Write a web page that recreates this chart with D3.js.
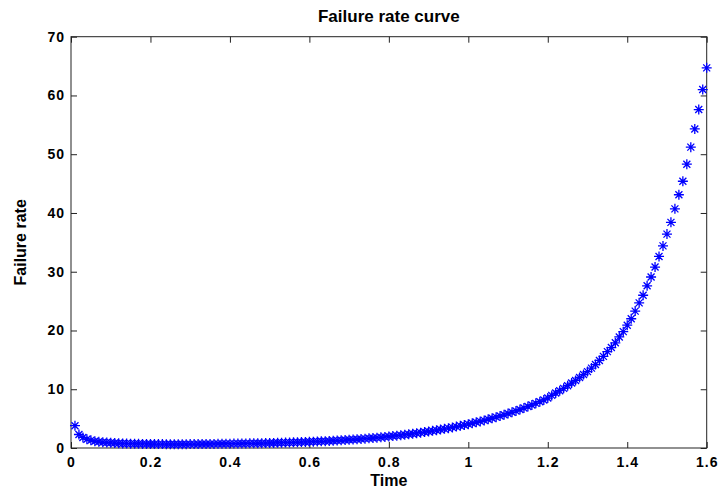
<!DOCTYPE html>
<html>
<head>
<meta charset="utf-8">
<script src="https://cdn.jsdelivr.net/npm/d3@7"></script>
<style>
  body { margin: 0; background: #fff; }
  text { font-family: "Liberation Sans", Arial, sans-serif; font-weight: bold; fill: #000; }
</style>
</head>
<body>
<div id="graph"></div>
<script>
/* data */
var timeValues = [
  0.01, 0.02, 0.03, 0.04, 0.05, 0.06, 0.07, 0.08, 0.09, 0.10,
  0.11, 0.12, 0.13, 0.14, 0.15, 0.16, 0.17, 0.18, 0.19, 0.20,
  0.21, 0.22, 0.23, 0.24, 0.25, 0.26, 0.27, 0.28, 0.29, 0.30,
  0.31, 0.32, 0.33, 0.34, 0.35, 0.36, 0.37, 0.38, 0.39, 0.40,
  0.41, 0.42, 0.43, 0.44, 0.45, 0.46, 0.47, 0.48, 0.49, 0.50,
  0.51, 0.52, 0.53, 0.54, 0.55, 0.56, 0.57, 0.58, 0.59, 0.60,
  0.61, 0.62, 0.63, 0.64, 0.65, 0.66, 0.67, 0.68, 0.69, 0.70,
  0.71, 0.72, 0.73, 0.74, 0.75, 0.76, 0.77, 0.78, 0.79, 0.80,
  0.81, 0.82, 0.83, 0.84, 0.85, 0.86, 0.87, 0.88, 0.89, 0.90,
  0.91, 0.92, 0.93, 0.94, 0.95, 0.96, 0.97, 0.98, 0.99, 1.00,
  1.01, 1.02, 1.03, 1.04, 1.05, 1.06, 1.07, 1.08, 1.09, 1.10,
  1.11, 1.12, 1.13, 1.14, 1.15, 1.16, 1.17, 1.18, 1.19, 1.20,
  1.21, 1.22, 1.23, 1.24, 1.25, 1.26, 1.27, 1.28, 1.29, 1.30,
  1.31, 1.32, 1.33, 1.34, 1.35, 1.36, 1.37, 1.38, 1.39, 1.40,
  1.41, 1.42, 1.43, 1.44, 1.45, 1.46, 1.47, 1.48, 1.49, 1.50,
  1.51, 1.52, 1.53, 1.54, 1.55, 1.56, 1.57, 1.58, 1.59, 1.60
];

var failureRates = [
  3.8, 2.3, 1.8, 1.5, 1.3, 1.15, 1.05, 0.98, 0.93, 0.88,
  0.84, 0.81, 0.78, 0.76, 0.74, 0.72, 0.71, 0.70, 0.69, 0.68,
  0.67, 0.66, 0.66, 0.65, 0.65, 0.65, 0.65, 0.65, 0.65, 0.66,
  0.66, 0.67, 0.67, 0.68, 0.69, 0.70, 0.71, 0.72, 0.73, 0.74,
  0.75, 0.76, 0.77, 0.78, 0.79, 0.80, 0.81, 0.82, 0.83, 0.85,
  0.86, 0.88, 0.90, 0.92, 0.94, 0.96, 0.98, 1.00, 1.03, 1.05,
  1.08, 1.11, 1.14, 1.17, 1.20, 1.23, 1.27, 1.31, 1.35, 1.40,
  1.44, 1.49, 1.54, 1.59, 1.65, 1.70, 1.76, 1.82, 1.89, 1.96,
  2.03, 2.10, 2.18, 2.26, 2.34, 2.43, 2.52, 2.61, 2.71, 2.81,
  2.92, 3.03, 3.14, 3.26, 3.38, 3.51, 3.64, 3.77, 3.91, 4.06,
  4.21, 4.37, 4.53, 4.70, 4.88, 5.06, 5.25, 5.45, 5.65, 5.86,
  6.08, 6.31, 6.55, 6.80, 7.05, 7.32, 7.60, 7.88, 8.18, 8.50,
  8.95, 9.35, 9.75, 10.15, 10.6, 11.05, 11.5, 12.0, 12.5, 13.0,
  13.6, 14.2, 14.9, 15.6, 16.4, 17.1, 17.9, 18.9, 19.8, 20.9,
  22.0, 23.3, 24.7, 26.0, 27.6, 29.1, 30.8, 32.6, 34.4, 36.4,
  38.4, 40.7, 43.1, 45.4, 48.3, 51.2, 54.3, 57.6, 61.0, 64.7
];

var xTicks = [0, 0.2, 0.4, 0.6, 0.8, 1, 1.2, 1.4, 1.6];
var xTickLabels = ["0", "0.2", "0.4", "0.6", "0.8", "1", "1.2", "1.4", "1.6"];
var yTicks = [0, 10, 20, 30, 40, 50, 60, 70];
var yTickLabels = ["0", "10", "20", "30", "40", "50", "60", "70"];

var width = 721;
var height = 488;
var margin = {top: 36.7, right: 14.3, bottom: 40, left: 71};
var plotW = width - margin.left - margin.right;
var plotH = height - margin.top - margin.bottom;

var svg = d3.select("#graph")
            .append("svg")
            .attr("width", width)
            .attr("height", height);

var x = d3.scaleLinear().domain([0, 1.6]).range([0, plotW]);
var y = d3.scaleLinear().domain([0, 70]).range([plotH, 0]);

var g = svg.append("g")
           .attr("transform", "translate(" + margin.left + "," + margin.top + ")");

// axes, ticks point inwards like matlab
g.append("g")
  .attr("class", "xaxis")
  .attr("transform", "translate(0," + plotH + ")")
  .call(d3.axisBottom(x).tickValues(xTicks).tickSize(-6).tickPadding(9)
          .tickFormat(function(d, i) { return xTickLabels[i]; }));

g.append("g")
  .attr("class", "yaxis")
  .call(d3.axisLeft(y).tickValues(yTicks).tickSize(-6).tickPadding(6)
          .tickFormat(function(d, i) { return yTickLabels[i]; }));

g.append("g")
  .call(d3.axisTop(x).tickValues(xTicks).tickSize(-6).tickFormat(""));

g.append("g")
  .attr("transform", "translate(" + plotW + ",0)")
  .call(d3.axisRight(y).tickValues(yTicks).tickSize(-6).tickFormat(""));

g.selectAll(".domain").remove();
g.selectAll(".tick line").style("stroke", "#222").style("stroke-width", 1);
g.selectAll(".tick text")
  .style("font-size", "14px")
  .style("letter-spacing", "1px")
  .style("font-family", "'Liberation Sans', Arial, sans-serif")
  .style("font-weight", "bold")
  .style("fill", "#000");

g.append("rect")
  .attr("width", plotW)
  .attr("height", plotH)
  .style("fill", "none")
  .style("stroke", "#222")
  .style("stroke-width", 1);

// matlab '*' marker
var matlabStar = {
  draw: function(context, size) {
    var r = Math.sqrt(size) / 2;
    var d = r * 0.7;
    context.moveTo(-r, 0); context.lineTo(r, 0);
    context.moveTo(0, -r); context.lineTo(0, r);
    context.moveTo(-d, -d); context.lineTo(d, d);
    context.moveTo(-d, d); context.lineTo(d, -d);
  }
};

g.append("g")
  .selectAll("path")
  .data(timeValues)
  .enter()
  .append("path")
  .attr("d", d3.symbol().type(matlabStar).size(100))
  .attr("transform", function(d, i) {
    return "translate(" + x(d) + "," + y(failureRates[i]) + ")";
  })
  .style("fill", "none")
  .style("stroke", "#0000ff")
  .style("stroke-width", 1.3);

// titles
svg.append("text")
  .attr("x", margin.left + plotW / 2)
  .attr("y", 22)
  .attr("text-anchor", "middle")
  .style("font-size", "17px")
  .text("Failure rate curve");

svg.append("text")
  .attr("x", margin.left + plotW / 2)
  .attr("y", 486)
  .attr("text-anchor", "middle")
  .style("font-size", "16px")
  .text("Time");

svg.append("text")
  .attr("transform", "translate(26," + (margin.top + plotH / 2) + ") rotate(-90)")
  .attr("text-anchor", "middle")
  .style("font-size", "16px")
  .text("Failure rate");
</script>
</body>
</html>
